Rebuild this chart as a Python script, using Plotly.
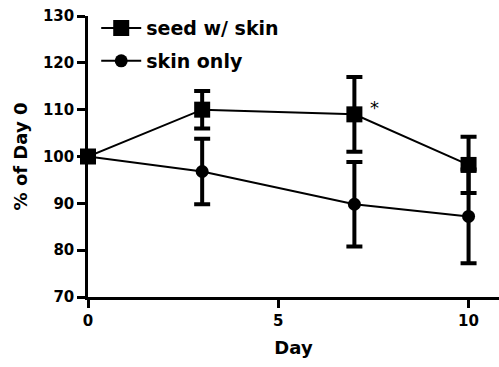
import plotly.graph_objects as go

days = [0, 3, 7, 10]
seed_w_skin = [100, 110, 109, 98.2]
seed_w_skin_err = [0, 4, 8, 6]
skin_only = [100, 96.8, 89.8, 87.2]
skin_only_err = [0, 7, 9, 10]

y_ticks = [70, 80, 90, 100, 110, 120, 130]
x_ticks = [0, 5, 10]

FONT = "DejaVu Sans"

fig = go.Figure()
fig.add_trace(go.Scatter(
    x=days, y=seed_w_skin, name="seed w/ skin", mode="lines+markers",
    line=dict(color="black", width=2),
    marker=dict(symbol="square", size=16, color="black"),
    error_y=dict(type="data", array=seed_w_skin_err, visible=True,
                 color="black", thickness=4, width=8),
    cliponaxis=False, legend="legend",
))
fig.add_trace(go.Scatter(
    x=days, y=skin_only, name="skin only", mode="lines+markers",
    line=dict(color="black", width=2),
    marker=dict(symbol="circle", size=13, color="black"),
    error_y=dict(type="data", array=skin_only_err, visible=True,
                 color="black", thickness=4, width=8),
    cliponaxis=False, legend="legend2",
))

fig.add_annotation(x=7.52, y=110.5, text="*", showarrow=False,
                   font=dict(family=FONT, size=18, color="black"),
                   xanchor="center", yanchor="middle")

legend_common = dict(
    bgcolor="rgba(0,0,0,0)", borderwidth=0,
    font=dict(family=FONT, size=19, color="black", weight="bold"),
    xanchor="left", yanchor="middle", itemwidth=40,
)

fig.update_layout(
    width=499, height=367,
    margin=dict(l=88, r=0, t=16, b=70),
    plot_bgcolor="white", paper_bgcolor="white",
    showlegend=True,
    legend=dict(x=0.02, y=0.957, **legend_common),
    legend2=dict(x=0.02, y=0.840, **legend_common),
    xaxis=dict(
        range=[0, 10.8], tickvals=x_ticks, ticks="outside", ticklen=8,
        tickwidth=2.5, tickcolor="black", showline=True, linecolor="black",
        linewidth=2.5, showgrid=False, zeroline=False,
        tickfont=dict(family=FONT, size=15, color="black", weight="bold"),
        title=dict(text="Day", standoff=13,
                   font=dict(family=FONT, size=18, color="black", weight="bold")),
    ),
    yaxis=dict(
        range=[70, 130], tickvals=y_ticks, ticks="outside", ticklen=8,
        tickwidth=2.5, tickcolor="black", showline=True, linecolor="black",
        linewidth=2.5, showgrid=False, zeroline=False,
        tickfont=dict(family=FONT, size=15, color="black", weight="bold"),
        title=dict(text="% of Day 0", standoff=11,
                   font=dict(family=FONT, size=18, color="black", weight="bold")),
    ),
)

fig.write_html("out.html")
